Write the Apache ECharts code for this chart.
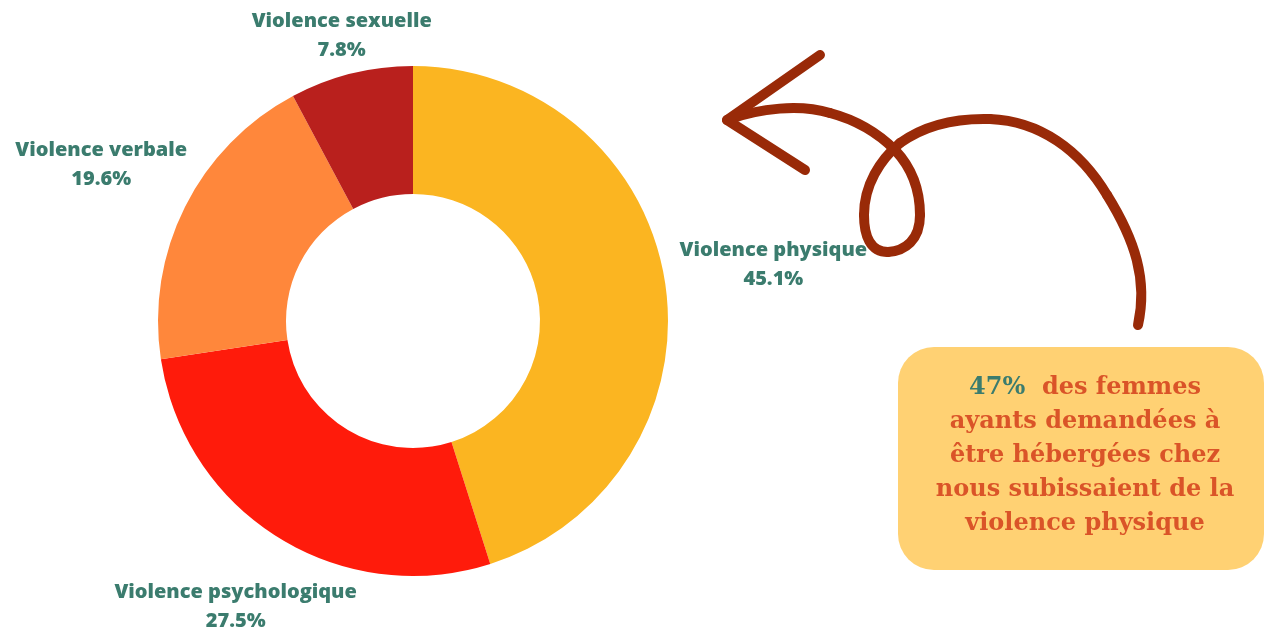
<!DOCTYPE html>
<html lang="fr">
<head>
<meta charset="utf-8">
<title>Types de violences</title>
<script src="https://cdn.jsdelivr.net/npm/echarts@6/dist/echarts.min.js"></script>
<style>
  html, body { margin: 0; padding: 0; background: #fff; }
  #main { width: 1264px; height: 630px; }
</style>
</head>
<body>
<div id="main"></div>
<script>
// data
const categories = ['Violence physique', 'Violence psychologique', 'Violence verbale', 'Violence sexuelle'];
const shares = [45.1, 27.5, 19.6, 7.8];
const sliceColors = ['#FBB521', '#FF1B0B', '#FF873B', '#B9201D'];

const calloutLines = [
  '{pct|47%}  des femmes',
  'ayants demandées à',
  'être hébergées chez',
  'nous subissaient de la',
  'violence physique'
];

const center = [413, 321];
const outerR = 255;
const innerR = 127;
const labelGap = 17;

const total = shares.reduce((a, b) => a + b, 0);

// mid angle (degrees) of slice i, starting at 12 o'clock, clockwise
function midAngle(i) {
  let cum = 0;
  for (let k = 0; k < i; k++) cum += shares[k];
  return 90 - 360 * (cum + shares[i] / 2) / total;
}

// hand-drawn arrow, as cubic segments [x1,y1, cp1x,cp1y, cp2x,cp2y, x2,y2]
const arrowCurve = [
  [727, 120, 760, 108, 800, 104, 830, 113],
  [830, 113, 860, 121, 880, 135, 895, 150],
  [895, 150, 912, 168, 920, 190, 920, 215],
  [920, 215, 920, 240, 905, 251, 888, 252],
  [888, 252, 870, 252, 864, 235, 864, 215],
  [864, 215, 864, 185, 880, 160, 900, 143],
  [900, 143, 925, 125, 955, 118, 990, 119],
  [990, 119, 1040, 121, 1080, 150, 1107, 195],
  [1107, 195, 1135, 240, 1148, 280, 1138, 325]
];
const arrowHead = [[820, 55], [727, 120], [805, 170]];

const arrowStyle = {
  fill: null,
  stroke: '#992A08',
  lineWidth: 10,
  lineCap: 'round',
  lineJoin: 'round'
};

const chart = echarts.init(document.getElementById('main'));

const graphics = arrowCurve.map(c => ({
  type: 'bezierCurve',
  silent: true,
  shape: { x1: c[0], y1: c[1], cpx1: c[2], cpy1: c[3], cpx2: c[4], cpy2: c[5], x2: c[6], y2: c[7] },
  style: arrowStyle
}));
graphics.push({
  type: 'polyline',
  silent: true,
  shape: { points: arrowHead },
  style: arrowStyle
});
graphics.push({
  type: 'rect',
  silent: true,
  shape: { x: 898, y: 347, width: 366, height: 223, r: 36 },
  style: { fill: '#FFD173' }
});
graphics.push({
  type: 'text',
  silent: true,
  style: {
    x: 1085,
    y: 456,
    text: calloutLines.join('\n'),
    align: 'center',
    verticalAlign: 'middle',
    fill: '#DA5428',
    fontFamily: 'DejaVu Serif',
    fontWeight: 'bold',
    fontSize: 24,
    lineHeight: 34,
    rich: {
      pct: {
        fill: '#3B7C6E',
        fontFamily: 'DejaVu Serif',
        fontWeight: 'bold',
        fontSize: 24,
        lineHeight: 34
      }
    }
  }
});

const option = {
  animation: false,
  series: [
    {
      type: 'pie',
      center: center,
      radius: [innerR, outerR],
      startAngle: 90,
      clockwise: true,
      silent: true,
      emphasis: { scale: false },
      label: {
        show: true,
        position: 'outside',
        formatter: '{b}\n{c}%',
        color: '#3B7C6E',
        fontFamily: 'Open Sans',
        fontWeight: 800,
        fontSize: 20,
        lineHeight: 29,
        align: 'center',
        overflow: 'none'
      },
      labelLine: { show: false },
      // label centre sits on the slice's mid-angle ray, pushed out by half its width
      labelLayout: function (params) {
        const a = midAngle(params.dataIndex) * Math.PI / 180;
        const c = Math.cos(a), s = Math.sin(a);
        const hw = params.labelRect.width / 2;
        const d = outerR + labelGap + hw * Math.abs(c);
        return {
          x: center[0] + d * c,
          y: center[1] - d * s,
          align: 'center',
          verticalAlign: 'middle'
        };
      },
      data: categories.map((name, i) => ({
        name: name,
        value: shares[i],
        itemStyle: { color: sliceColors[i] }
      }))
    }
  ],
  graphic: graphics
};

chart.setOption(option);
</script>
</body>
</html>
